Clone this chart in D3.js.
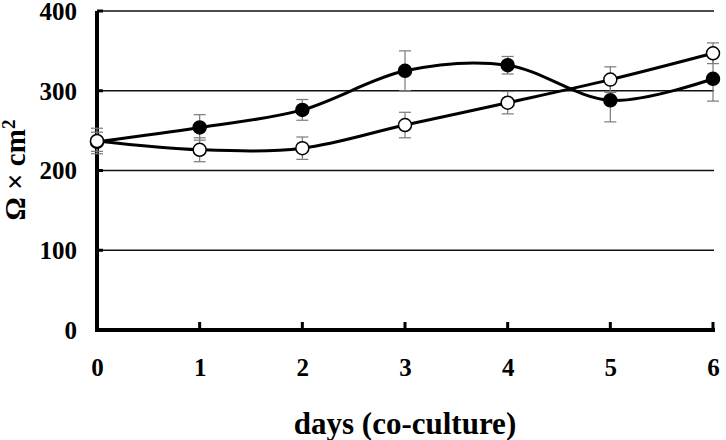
<!DOCTYPE html>
<html>
<head>
<meta charset="utf-8">
<script src="https://cdn.jsdelivr.net/npm/d3@7"></script>
<style>
  body { margin: 0; background: #fff; }
  text { font-family: "Liberation Serif", "Times New Roman", serif; font-weight: bold; }
</style>
</head>
<body>
<svg id="chart"></svg>
<script>
// data
const days = [0, 1, 2, 3, 4, 5, 6];
const filledVals = [236, 254, 276, 325, 332, 288, 315];
const filledErr = [12, 16, 13, 25, 11, 27, 28];
const openVals = [237, 226, 228, 257, 285, 314, 347];
const openErr = [16, 15, 14, 16, 14, 16, 13];
const yTicks = [0, 100, 200, 300, 400];

const width = 726, height = 440;
const margin = {top: 11, right: 12, bottom: 110, left: 97};
const innerW = width - margin.left - margin.right;
const innerH = height - margin.top - margin.bottom;

const svg = d3.select('#chart')
    .attr('width', width)
    .attr('height', height);

const chart = svg.append('g')
    .attr('transform', `translate(${margin.left},${margin.top})`);

const xScale = d3.scaleLinear().domain([0, 6]).range([0, innerW - 1]);
const yScale = d3.scaleLinear().domain([0, 400]).range([innerH, 0]);

// gridlines
chart.selectAll('.grid')
    .data(yTicks.filter(d => d > 0))
    .enter().append('line')
    .attr('class', 'grid')
    .attr('x1', 0)
    .attr('x2', xScale(6) + 1)
    .attr('y1', d => yScale(d))
    .attr('y2', d => yScale(d))
    .attr('stroke', '#111')
    .attr('stroke-width', 1.6);

// y axis
const yAxis = d3.axisLeft(yScale).tickValues(yTicks).tickSize(0).tickPadding(20);
const yAxisG = chart.append('g').call(yAxis);
yAxisG.select('.domain').remove();
yAxisG.selectAll('text')
    .attr('font-size', 25)
    .attr('fill', '#000')
    .attr('dy', '0.33em');
chart.selectAll('.ytick')
    .data(yTicks)
    .enter().append('line')
    .attr('x1', 0).attr('x2', 6)
    .attr('y1', d => yScale(d)).attr('y2', d => yScale(d))
    .attr('stroke', '#000').attr('stroke-width', 3);
chart.append('line')
    .attr('x1', 0).attr('x2', 0)
    .attr('y1', 0).attr('y2', innerH + 2)
    .attr('stroke', '#000').attr('stroke-width', 4);

// x axis
const xAxis = d3.axisBottom(xScale).tickValues(days).tickFormat(d3.format('d'))
    .tickSize(0).tickPadding(28);
const xAxisG = chart.append('g')
    .attr('transform', `translate(0,${innerH})`)
    .call(xAxis);
xAxisG.select('.domain').remove();
xAxisG.selectAll('text')
    .attr('font-size', 25)
    .attr('fill', '#000');
chart.selectAll('.xtick')
    .data(days)
    .enter().append('line')
    .attr('x1', d => xScale(d)).attr('x2', d => xScale(d))
    .attr('y1', innerH).attr('y2', innerH - 8)
    .attr('stroke', '#000').attr('stroke-width', 3);
chart.append('line')
    .attr('x1', -2).attr('x2', xScale(6) + 2)
    .attr('y1', innerH).attr('y2', innerH)
    .attr('stroke', '#000').attr('stroke-width', 4);

// axis titles
svg.append('text')
    .attr('x', 405)
    .attr('y', 434)
    .attr('text-anchor', 'middle')
    .attr('font-size', 31)
    .text('days (co-culture)');

const yTitle = svg.append('text')
    .attr('transform', 'translate(25,170) rotate(-90)')
    .attr('text-anchor', 'middle')
    .attr('font-size', 29);
yTitle.append('tspan').text('Ω × cm');
yTitle.append('tspan').attr('font-size', 19).attr('dy', '-0.55em').text('2');

const series = [
    {vals: filledVals, err: filledErr, fill: '#000'},
    {vals: openVals, err: openErr, fill: '#fff'}
];

const line = d3.line()
    .x((d, i) => xScale(days[i]))
    .y(d => yScale(d))
    .curve(d3.curveCardinal.tension(0));

series.forEach(s => {
    chart.append('path')
        .attr('d', line(s.vals))
        .attr('fill', 'none')
        .attr('stroke', '#000')
        .attr('stroke-width', 3);
});

// error bars
series.forEach(s => {
    const g = chart.append('g').attr('stroke', '#7a7a7a').attr('stroke-width', 1.2);
    s.vals.forEach((v, i) => {
        const x = xScale(days[i]);
        const y0 = yScale(v - s.err[i]), y1 = yScale(v + s.err[i]);
        g.append('line').attr('x1', x).attr('x2', x).attr('y1', y0).attr('y2', y1);
        g.append('line').attr('x1', x - 6).attr('x2', x + 6).attr('y1', y0).attr('y2', y0);
        g.append('line').attr('x1', x - 6).attr('x2', x + 6).attr('y1', y1).attr('y2', y1);
    });
});

// markers
series.forEach(s => {
    chart.selectAll(null)
        .data(s.vals)
        .enter().append('circle')
        .attr('cx', (d, i) => xScale(days[i]))
        .attr('cy', d => yScale(d))
        .attr('r', 6.5)
        .attr('fill', s.fill)
        .attr('stroke', '#000')
        .attr('stroke-width', 1.5);
});
</script>
</body>
</html>
